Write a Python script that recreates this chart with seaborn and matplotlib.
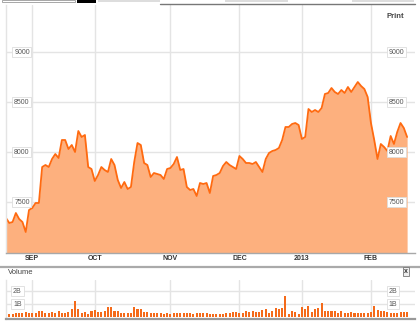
import numpy as np
import pandas as pd
import matplotlib
matplotlib.use("Agg")
import matplotlib.pyplot as plt
import matplotlib.transforms as mtransforms
from matplotlib.patches import Rectangle
from matplotlib.lines import Line2D
import seaborn as sns

# ---- data ----
price = [7340, 7290, 7300, 7390, 7330, 7300, 7200, 7420, 7440, 7490, 7490,
         7850, 7870, 7850, 7930, 7980, 7940, 8120, 8120, 8030, 8070, 8000,
         8210, 8150, 8170, 7850, 7830, 7710, 7770, 7850, 7820, 7800, 7930,
         7870, 7720, 7640, 7700, 7630, 7650, 7900, 8090, 8070, 7890, 7870,
         7750, 7790, 7780, 7770, 7730, 7830, 7840, 7880, 7950, 7820, 7830,
         7650, 7620, 7630, 7560, 7690, 7680, 7690, 7590, 7760, 7770, 7790,
         7860, 7900, 7870, 7850, 7830, 7960, 7930, 7890, 7890, 7880, 7900,
         7850, 7800, 7930, 7990, 8010, 8020, 8040, 8120, 8250, 8250, 8280,
         8290, 8270, 8130, 8150, 8430, 8400, 8420, 8400, 8440, 8580, 8590,
         8640, 8600, 8580, 8620, 8590, 8650, 8600, 8650, 8700, 8660, 8630,
         8550, 8290, 8120, 7930, 8080, 8050, 8010, 8160, 8080, 8200, 8290,
         8240, 8150]

volume = [0.25, 0.25, 0.25, 0.28, 0.32, 0.28, 0.38, 0.32, 0.32, 0.32,
          0.43, 0.43, 0.28, 0.28, 0.38, 0.28, 0.43, 0.32, 0.32, 0.38,
          0.59, 1.27, 0.59, 0.32, 0.38, 0.25, 0.43, 0.54, 0.38, 0.38,
          0.43, 0.76, 0.76, 0.43, 0.49, 0.32, 0.28, 0.28, 0.32, 0.76,
          0.59, 0.65, 0.38, 0.38, 0.32, 0.32, 0.28, 0.28, 0.25, 0.32,
          0.25, 0.28, 0.28, 0.28, 0.32, 0.32, 0.28, 0.25, 0.28, 0.32,
          0.28, 0.28,
          0.25, 0.25, 0.25, 0.25, 0.25, 0.32, 0.32, 0.38, 0.38, 0.32,
          0.32, 0.43, 0.38, 0.43, 0.38, 0.38, 0.54, 0.59, 0.32, 0.43,
          0.70, 0.65, 0.70, 1.60, 0.25, 0.49, 0.38, 0.25, 0.76, 0.65,
          0.81, 0.38, 0.59, 0.70, 1.08, 0.43, 0.43, 0.49, 0.49, 0.32,
          0.49, 0.32, 0.28, 0.38, 0.28, 0.28, 0.28, 0.28, 0.32, 0.38,
          0.81, 0.54, 0.49, 0.49, 0.38, 0.32, 0.32, 0.28, 0.38, 0.38,
          0.38]

month_labels = ["SEP", "OCT", "NOV", "DEC", "2013", "FEB"]
month_starts = [8, 27, 50, 71, 90, 111]   # trading-day index of first day
price_ticks = [7500, 8000, 8500, 9000]
volume_ticks = [1, 2]
volume_tick_labels = ["1B", "2B"]

day = np.arange(len(price))
df = pd.DataFrame({"day": day, "price": price, "volume": volume})

# ---- style ----
sns.set_theme(style="white")
plt.rcParams['font.family'] = ['Liberation Sans', 'DejaVu Sans']

W, H = 420, 321
fig = plt.figure(figsize=(W / 100, H / 100), dpi=100)
fig.patch.set_facecolor("white")


def box(l, t, r, b):
    return [l / W, 1 - b / H, (r - l) / W, (b - t) / H]


LINE = "#ff6a10"
FILL = "#fdb07e"
GRID = "#e4e4e4"
BAR = "#f46a1a"
XMAX = 124.4

# ---- price panel ----
ax = fig.add_axes(box(6, 5, 415, 253))
ax.set_xlim(0, XMAX)
ax.set_ylim(6990, 9470)
for t in price_ticks:
    ax.axhline(t, color=GRID, lw=1, zorder=0)
for m in month_starts:
    ax.axvline(m, color=GRID, lw=1, zorder=0)
ax.fill_between(df["day"], df["price"], 6990, color=FILL, lw=0, zorder=1)
sns.lineplot(data=df, x="day", y="price", ax=ax, color=LINE, lw=1.3, zorder=2)
ax.set_xticks([])
ax.set_yticks([])
ax.set_xlabel("")
ax.set_ylabel("")
for s in ["top", "right"]:
    ax.spines[s].set_visible(False)
ax.spines["left"].set_color(GRID)
ax.spines["left"].set_linewidth(1)
ax.spines["bottom"].set_color("#a8a8a8")
ax.spines["bottom"].set_linewidth(1)

trans = mtransforms.blended_transform_factory(ax.transAxes, ax.transData)
bb = dict(boxstyle="square,pad=0.25", fc="white", ec="#dddddd", lw=0.6)
for t in price_ticks:
    ax.text(0.039, t, str(t), transform=trans, ha="center", va="center",
            fontsize=5, color="#555555", bbox=bb, zorder=5)
    ax.text(0.955, t, str(t), transform=trans, ha="center", va="center",
            fontsize=5, color="#555555", bbox=bb, zorder=5)

tx = mtransforms.blended_transform_factory(ax.transData, fig.transFigure)
for m, lab in zip(month_starts, month_labels):
    ax.text(m, 1 - 258.5 / H, lab, transform=tx, ha="center", va="center",
            fontsize=5, fontweight="bold", color="#333333")

fig.text(395 / W, 1 - 17 / H, "Print", ha="center", va="center",
         fontsize=5.5, fontweight="bold", color="#444444")

# ---- separator & toolbar remnants ----
fig.add_artist(Line2D([0, 1], [1 - 267 / H] * 2, color="#aaaaaa", lw=1.6))
fig.add_artist(Line2D([160 / W, 415 / W], [1 - 4 / H] * 2, color="#777777", lw=1))
fig.add_artist(Rectangle((2 / W, 1 - 2 / H), 73 / W, 2 / H, fc="white",
                         ec="#999999", lw=0.6))
fig.add_artist(Rectangle((77 / W, 1 - 3 / H), 19 / W, 3 / H, fc="black", lw=0))
fig.add_artist(Rectangle((98 / W, 1 - 2 / H), 62 / W, 2 / H, fc="#dddddd", lw=0))
fig.add_artist(Rectangle((225 / W, 1 - 2 / H), 63 / W, 2 / H, fc="#dddddd", lw=0))
fig.add_artist(Rectangle((352 / W, 1 - 2 / H), 62 / W, 2 / H, fc="#dddddd", lw=0))

fig.text(8 / W, 1 - 273 / H, "Volume", ha="left", va="center",
         fontsize=5.5, color="#444444")
fig.text(406 / W, 1 - 271.5 / H, "x", ha="center", va="center",
         fontsize=5, color="#333333", fontweight="bold",
         bbox=dict(boxstyle="square,pad=0.15", fc="#eeeeee", ec="#777777", lw=0.6))

# ---- volume panel ----
av = fig.add_axes(box(6, 280, 415, 318.5))
av.set_xlim(0, XMAX)
av.set_ylim(-0.115, 2.85)
for t in volume_ticks:
    av.axhline(t, color=GRID, lw=1, zorder=0)
for m in month_starts:
    av.axvline(m, color=GRID, lw=1, zorder=0)
sns.barplot(data=df, x="day", y="volume", ax=av, native_scale=True,
            color=BAR, width=0.62, saturation=1, linewidth=0, errorbar=None,
            zorder=2)
av.set_xlim(0, XMAX)
av.set_ylim(-0.115, 2.85)
av.set_xticks([])
av.set_yticks([])
av.set_xlabel("")
av.set_ylabel("")
for s in ["top", "right"]:
    av.spines[s].set_visible(False)
av.spines["left"].set_color(GRID)
av.spines["left"].set_linewidth(1)
av.spines["bottom"].set_color("#999999")
av.spines["bottom"].set_linewidth(1.6)

transv = mtransforms.blended_transform_factory(av.transAxes, av.transData)
for t, lab in zip(volume_ticks, volume_tick_labels):
    av.text(0.028, t, lab, transform=transv, ha="center", va="center",
            fontsize=5, color="#555555", bbox=bb, zorder=5)
    av.text(0.946, t, lab, transform=transv, ha="center", va="center",
            fontsize=5, color="#555555", bbox=bb, zorder=5)

fig.savefig("out.png", dpi=100, facecolor="white")
